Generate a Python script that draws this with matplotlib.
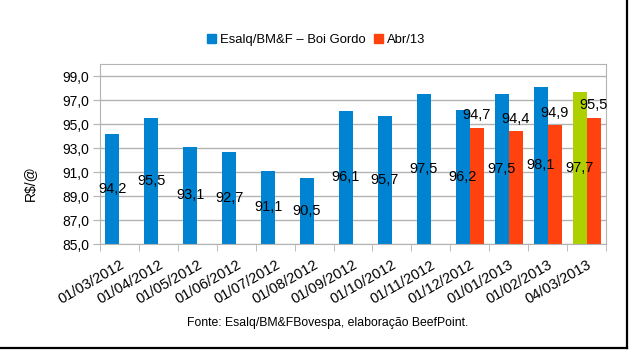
import numpy as np
import matplotlib.pyplot as plt
from matplotlib.lines import Line2D
from matplotlib.patches import Rectangle

plt.rcParams['font.family'] = ['Liberation Sans', 'DejaVu Sans']

dates = ['01/03/2012', '01/04/2012', '01/05/2012', '01/06/2012', '01/07/2012',
         '01/08/2012', '01/09/2012', '01/10/2012', '01/11/2012', '01/12/2012',
         '01/01/2013', '01/02/2013', '04/03/2013']
boi = [94.2, 95.5, 93.1, 92.7, 91.1, 90.5, 96.1, 95.7, 97.5, 96.2, 97.5, 98.1, 97.7]
abr = [np.nan] * 9 + [94.7, 94.4, 94.9, 95.5]

blue = '#0084d1'
red = '#ff420e'
green = '#aecf00'
grid_c = '#b3b3b3'

fig = plt.figure(figsize=(6.31, 3.51), dpi=100)
ax = fig.add_axes([100 / 631, 1 - 244 / 351, 506 / 631, 180 / 351])

x = np.arange(len(dates))
w = 0.36
cols = [blue] * (len(dates) - 1) + [green]
ax.bar(x - w / 2, boi, w, color=cols, zorder=2)
ax.bar(x + w / 2, abr, w, color=red, zorder=2)

ax.set_ylim(85, 100)
ax.set_xlim(-0.5, len(dates) - 0.5)
yt = np.arange(85, 100, 2)
ax.set_yticks(yt)
ax.set_yticklabels([('%.1f' % v).replace('.', ',') for v in yt], fontsize=10)
ax.yaxis.grid(True, color=grid_c, lw=1, zorder=0)
ax.set_axisbelow(True)
ax.tick_params(axis='y', length=5, color=grid_c, pad=3)

# ticks at category borders, labels at the centres
ax.set_xticks(np.arange(-0.5, len(dates), 1), minor=True)
ax.tick_params(axis='x', which='minor', length=5, color=grid_c)
ax.set_xticks(x)
ax.tick_params(axis='x', which='major', length=0, pad=10)
ax.set_xticklabels(dates, rotation=30, ha='right', va='top', rotation_mode='anchor', fontsize=10.5)
for sp in ax.spines.values():
    sp.set_color(grid_c)

for i, v in enumerate(boi):
    ax.text(x[i] - w / 2, (v + 85) / 2, ('%.1f' % v).replace('.', ','),
            ha='center', va='center', fontsize=10.5, zorder=5)
for i, v in enumerate(abr):
    if not np.isnan(v):
        ax.annotate(('%.1f' % v).replace('.', ','), (x[i] + w / 2, v), xytext=(0, 4),
                    textcoords='offset points', ha='center', va='bottom', fontsize=10.5, zorder=5)

ax.set_ylabel('R$/@', fontsize=10)
ax.yaxis.set_label_coords(-0.125, 0.34)

handles = [Rectangle((0, 0), 1, 1, color=blue), Rectangle((0, 0), 1, 1, color=red)]
fig.legend(handles, ['Esalq/BM&F – Boi Gordo', 'Abr/13'], loc='center',
           bbox_to_anchor=(316 / 631, 1 - 40 / 351), ncol=2, frameon=False, fontsize=9.4,
           handlelength=0.7, handleheight=0.7, handletextpad=0.3, columnspacing=0.6)

fig.text(328 / 631, 1 - 323 / 351, 'Fonte: Esalq/BM&FBovespa, elaboração BeefPoint.',
         ha='center', va='center', fontsize=8.8)

# black frame on the right and bottom edges
fig.add_artist(Line2D([627 / 631, 627 / 631], [1 - 348 / 351, 1], color='black', lw=1.6))
fig.add_artist(Line2D([0, 627 / 631], [1 - 348 / 351, 1 - 348 / 351], color='black', lw=1.6))

fig.savefig('out.png', dpi=100)
